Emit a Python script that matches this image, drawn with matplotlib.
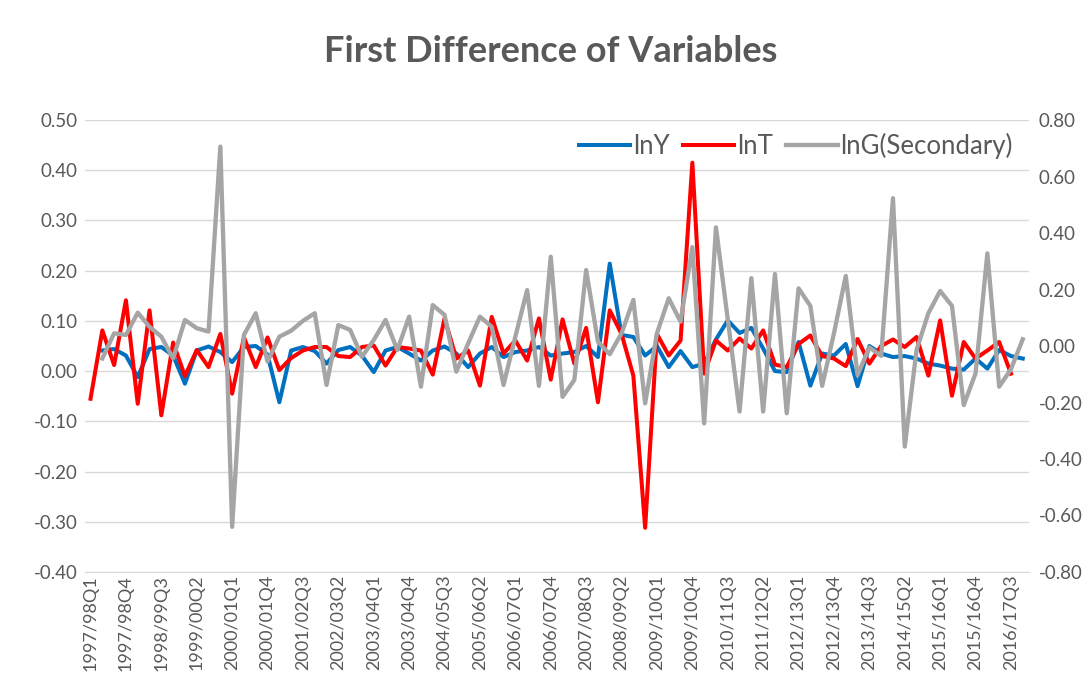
import numpy as np
import matplotlib.pyplot as plt

plt.rcParams['font.family'] = ['Lato', 'DejaVu Sans']

# fiscal-year quarters 1997/98Q1 .. 2016/17Q4
years = [f"{y}/{str(y + 1)[2:]}" for y in range(1997, 2017)]
quarters = [f"{y}Q{q}" for y in years for q in range(1, 5)]

# first differences (None = no point)
lnY = [None, 0.041, 0.044, 0.031, -0.012, 0.044, 0.048, 0.031, -0.025, 0.041,
       0.049, 0.038, 0.018, 0.048, 0.050, 0.033, -0.062, 0.041, 0.048, 0.040,
       0.015, 0.042, 0.048, 0.031, -0.002, 0.041, 0.048, 0.035, 0.021, 0.041,
       0.049, 0.035, 0.008, 0.035, 0.048, 0.028, 0.038, 0.041, 0.048, 0.031,
       0.035, 0.038, 0.050, 0.028, 0.214, 0.072, 0.068, 0.031, 0.050, 0.008,
       0.040, 0.008, 0.015, 0.063, 0.101, 0.076, 0.086, 0.045, 0.000, -0.002,
       0.058, -0.029, 0.035, 0.031, 0.054, -0.030, 0.050, 0.035, 0.028, 0.030,
       0.025, 0.015, 0.011, 0.005, 0.003, 0.025, 0.005, 0.042, 0.030, 0.025]

lnT = [-0.055, 0.081, 0.012, 0.141, -0.065, 0.121, -0.088, 0.057, -0.010, 0.042,
       0.008, 0.074, -0.045, 0.067, 0.008, 0.067, 0.002, 0.026, 0.041, 0.048,
       0.048, 0.030, 0.028, 0.048, 0.051, 0.011, 0.048, 0.045, 0.041, -0.007,
       0.105, 0.025, 0.041, -0.029, 0.108, 0.035, 0.061, 0.021, 0.105, -0.017,
       0.103, 0.015, 0.086, -0.062, 0.121, 0.074, -0.009, -0.312, 0.074, 0.031,
       0.061, 0.415, -0.005, 0.061, 0.041, 0.065, 0.045, 0.081, 0.013, 0.008,
       0.054, 0.071, 0.030, 0.025, 0.010, 0.064, 0.015, 0.050, 0.063, 0.048,
       0.068, -0.009, 0.101, -0.049, 0.058, 0.025, 0.041, 0.058, -0.005, None]

lnG = [None, -0.044, 0.045, 0.039, 0.118, 0.068, 0.033, -0.044, 0.092, 0.063,
       0.051, 0.706, -0.640, 0.039, 0.116, -0.055, 0.033, 0.054, 0.089, 0.116,
       -0.138, 0.074, 0.057, -0.038, 0.021, 0.092, -0.014, 0.104, -0.144, 0.145,
       0.110, -0.091, 0.009, 0.104, 0.068, -0.138, 0.033, 0.198, -0.141, 0.316,
       -0.180, -0.120, 0.269, 0.015, -0.029, 0.045, 0.163, -0.203, 0.045, 0.169,
       0.086, 0.350, -0.274, 0.420, 0.095, -0.232, 0.240, -0.232, 0.255, -0.238,
       0.204, 0.142, -0.141, 0.045, 0.248, -0.103, -0.005, -0.035, 0.523, -0.356,
       -0.014, 0.116, 0.195, 0.142, -0.209, -0.097, 0.328, -0.144, -0.082, 0.024]

left_ticks = [-0.4, -0.3, -0.2, -0.1, 0.0, 0.1, 0.2, 0.3, 0.4, 0.5]
right_ticks = [-0.8, -0.6, -0.4, -0.2, 0.0, 0.2, 0.4, 0.6, 0.8]

txt = '#595959'
x = np.arange(len(quarters))
to_arr = lambda s: np.array([np.nan if v is None else v for v in s])

fig = plt.figure(figsize=(10.92, 6.75), dpi=100)
ax = fig.add_axes([0.0775, 0.1526, 0.8645, 0.6696])
ax2 = ax.twinx()

l1, = ax.plot(x, to_arr(lnY), color='#0070C0', lw=2.9, label='lnY', solid_joinstyle='round')
l2, = ax.plot(x, to_arr(lnT), color='#FF0000', lw=2.9, label='lnT', solid_joinstyle='round')
l3, = ax2.plot(x, to_arr(lnG), color='#A5A5A5', lw=3.1, label='lnG(Secondary)', solid_joinstyle='round')

ax.set_xlim(-0.5, len(quarters) - 0.5)
ax.set_ylim(-0.4, 0.5)
ax.set_yticks(left_ticks)
ax.set_yticklabels([f"{v:.2f}" for v in left_ticks])
ax2.set_ylim(-0.8, 0.8)
ax2.set_yticks(right_ticks)
ax2.set_yticklabels([f"{v:.2f}" for v in right_ticks])

ax.set_xticks(x[::3])
ax.set_xticklabels(quarters[::3], rotation=90)
ax.grid(axis='y', color='#D9D9D9', lw=1)
ax.set_axisbelow(True)

for a in (ax, ax2):
    for s in a.spines.values():
        s.set_visible(False)
    a.tick_params(length=0, colors=txt, labelsize=13.5)
ax.tick_params(axis='x', pad=2, labelsize=13)
ax.tick_params(axis='y', pad=5)
ax2.tick_params(axis='y', pad=7)
ax.spines['bottom'].set_visible(True)
ax.spines['bottom'].set_color('#D9D9D9')

leg = ax2.legend(handles=[l1, l2, l3], loc='upper right', ncol=3, frameon=False,
                 fontsize=18.5, handlelength=2.0, columnspacing=0.5, handletextpad=0.12,
                 borderaxespad=0.1, bbox_to_anchor=(0.997, 1.0))
for t in leg.get_texts():
    t.set_color(txt)

fig.text(0.504, 0.923, 'First Difference of Variables', ha='center', va='center',
         fontsize=26, fontweight='bold', color=txt)

fig.savefig('out.png', dpi=100, facecolor='white')
